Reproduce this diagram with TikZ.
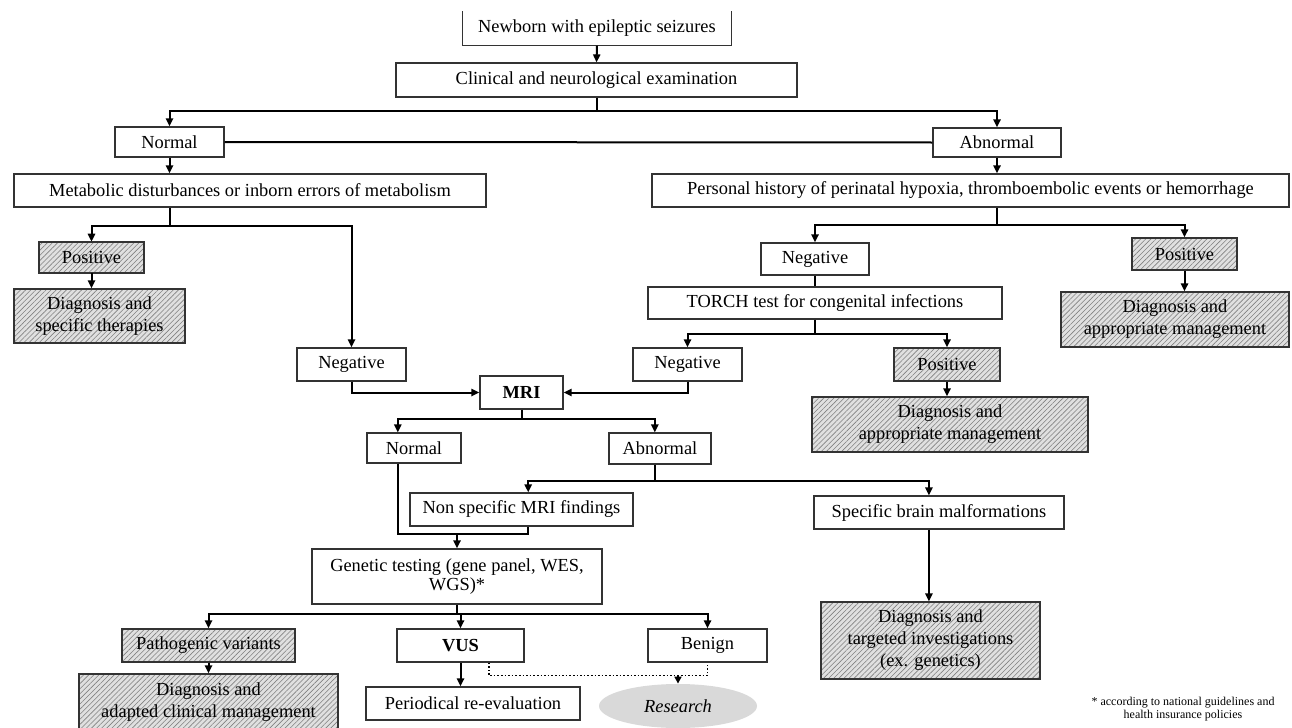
\documentclass[tikz,border=0pt]{standalone}
\usepackage{fontspec}
\setmainfont{Liberation Serif}
\usetikzlibrary{arrows.meta,patterns.meta,calc,shapes.geometric}
\newcommand\mybox[7]{\node[#1,minimum width={(#5-#3)*0.5pt},minimum height={(#6-#4)*0.5pt}] (#2) at ({(#3+#5)/2},{(#4+#6)/2}) {#7};}
\begin{document}
\begin{tikzpicture}[x=0.5pt,y=-0.5pt,
  font=\fontsize{9.2}{11}\selectfont,
  box/.style={draw=black!80,line width=0.6pt,rectangle,inner sep=0pt,align=center},
  hbox/.style={box,preaction={fill=black!12},pattern={Lines[angle=45,distance=1.8pt,line width=0.3pt]},pattern color=black!50},
  conn/.style={line width=1pt,black},
  arr/.style={conn,-{Triangle[length=4pt,width=3.6pt]}},
  dots/.style={densely dotted,line width=0.8pt,black},
]
\useasboundingbox (0,0) rectangle (1292,728);
% nodes
\mybox{box,draw=none}{nb}{463}{12}{731}{45}{Newborn with epileptic seizures}
\draw[black!80,line width=0.6pt] (nb.north west) -- (nb.south west) -- (nb.south east) -- (nb.north east);
\mybox{box}{clinical}{396}{63}{797}{97}{Clinical and neurological examination}
\mybox{box}{normal1}{115}{127}{224}{157}{Normal}
\mybox{box}{abnormal1}{933}{128}{1061}{157}{Abnormal}
\mybox{box}{metabolic}{14}{174}{486}{207}{Metabolic disturbances or inborn errors of metabolism}
\mybox{box}{personal}{652}{174}{1289}{207}{Personal history of perinatal hypoxia, thromboembolic events or hemorrhage}
\mybox{hbox}{pos1}{39}{242}{144}{273}{Positive}
\mybox{hbox}{diag1}{14}{289}{185}{343}{Diagnosis and\\specific therapies}
\mybox{box}{neg1}{297}{348}{406}{381}{Negative}
\mybox{box,font=\fontsize{9.2}{11}\selectfont\bfseries}{mri}{480}{376}{563}{409}{MRI}
\mybox{box}{neg2}{761}{243}{869}{275}{Negative}
\mybox{box}{torch}{648}{287}{1002}{319}{TORCH test for congenital infections}
\mybox{box}{neg3}{633}{348}{742}{381}{Negative}
\mybox{hbox}{pos2}{894}{348}{1000}{381}{Positive}
\mybox{hbox}{diag2}{812}{397}{1088}{452}{Diagnosis and\\appropriate management}
\mybox{hbox}{pos3}{1132}{238}{1237}{270}{Positive}
\mybox{hbox}{diag3}{1061}{292}{1289}{347}{Diagnosis and\\appropriate management}
\mybox{box}{normal2}{367}{433}{461}{463}{Normal}
\mybox{box}{abnormal2}{609}{433}{711}{464}{Abnormal}
\mybox{box}{nonspec}{410}{493}{633}{526}{Non specific MRI findings}
\mybox{box}{specific}{814}{496}{1064}{529}{Specific brain malformations}
\mybox{box}{genetic}{312}{549}{602}{604}{Genetic testing (gene panel, WES,\\[-1.5pt]WGS)*}
\mybox{hbox}{diag4}{821}{602}{1040}{679}{Diagnosis and\\targeted investigations\\(ex. genetics)}
\mybox{hbox}{patho}{122}{629}{295}{662}{Pathogenic variants}
\mybox{box,font=\fontsize{9.2}{11}\selectfont\bfseries}{vus}{397}{629}{524}{662}{VUS}
\mybox{box}{benign}{648}{629}{767}{662}{Benign}
\mybox{hbox}{diag5}{79}{674}{338}{730}{Diagnosis and\\adapted clinical management}
\mybox{box}{periodical}{366}{687}{580}{720}{Periodical re-evaluation}
\node[ellipse,fill=black!15,minimum width=79pt,minimum height=22pt,inner sep=0pt,font=\fontsize{9.2}{11}\selectfont\itshape] (research) at (678,706) {Research};
\node[align=center,font=\fontsize{6}{6.6}\selectfont] (fn) at (1183,709) {* according to national guidelines and\\health insurance policies};
% connectors
\draw[arr] (nb.south) -- (clinical.north);
\draw[conn] (clinical.south) -- ++(0,13) coordinate (j1);
\draw[arr] (j1) -| (normal1.north);
\draw[arr] (j1) -| (abnormal1.north);
\draw[conn] (normal1.east) -- (abnormal1.west);
\draw[arr] (normal1.south) -- (normal1.south |- metabolic.north);
\draw[arr] (abnormal1.south) -- (abnormal1.south |- personal.north);
\draw[conn] (metabolic.south -| normal1.south) -- ++(0,18) coordinate (j2);
\draw[arr] (j2) -| (pos1.north);
\draw[arr] (j2) -| (neg1.north);
\draw[arr] (pos1.south) -- (pos1.south |- diag1.north);
\draw[arr] (neg1.south) |- (mri.west);
\draw[conn] (personal.south -| abnormal1.south) -- ++(0,17) coordinate (j3);
\draw[arr] (j3) -| (neg2.north);
\draw[arr] (j3) -| (pos3.north);
\draw[arr] (pos3.south) -- (pos3.south |- diag3.north);
\draw[conn] (neg2.south) -- (neg2.south |- torch.north);
\draw[conn] (torch.south -| neg2.south) -- ++(0,14) coordinate (j4);
\draw[arr] (j4) -| (neg3.north);
\draw[arr] (j4) -| (pos2.north);
\draw[arr] (pos2.south) -- (pos2.south |- diag2.north);
\draw[arr] (neg3.south) |- (mri.east);
\draw[conn] (mri.south) -- ++(0,9) coordinate (j5);
\coordinate (n2in) at ($(normal2.north west)!0.33!(normal2.north east)$);
\coordinate (a2in) at ($(abnormal2.north west)!0.45!(abnormal2.north east)$);
\draw[arr] (j5) -| (n2in);
\draw[arr] (j5) -| (a2in);
\draw[conn] (abnormal2.south -| a2in) -- ++(0,16) coordinate (j6);
\coordinate (nsin) at ($(nonspec.north west)!0.53!(nonspec.north east)$);
\coordinate (spin) at ($(specific.north west)!0.46!(specific.north east)$);
\draw[arr] (j6) -| (nsin);
\draw[arr] (j6) -| (spin);
\draw[arr] (specific.south -| spin) -- (diag4.north -| spin);
\coordinate (j7) at ($(genetic.north)+(0,-14)$);
\draw[conn] (normal2.south -| n2in) |- (j7 -| nsin) -- (nonspec.south -| nsin);
\draw[arr] (j7) -- (genetic.north);
\draw[conn] (genetic.south) -- ++(0,9) coordinate (j8);
\draw[arr] (j8) -| (patho.north);
\draw[arr] (j8) -| (vus.north);
\draw[arr] (j8) -| (benign.north);
\draw[arr] (patho.south) -- (patho.south |- diag5.north);
\draw[arr] (vus.south) -- (vus.south |- periodical.north);
\coordinate (vd) at ($(vus.south west)!0.72!(vus.south east)$);
\draw[dots] (vd) -- ++(0,13) coordinate (j9) -| (benign.south);
\draw[dots,-{Triangle[length=3.5pt,width=3.5pt]}] (j9 -| research.north) -- (research.north);
\end{tikzpicture}
\end{document}
